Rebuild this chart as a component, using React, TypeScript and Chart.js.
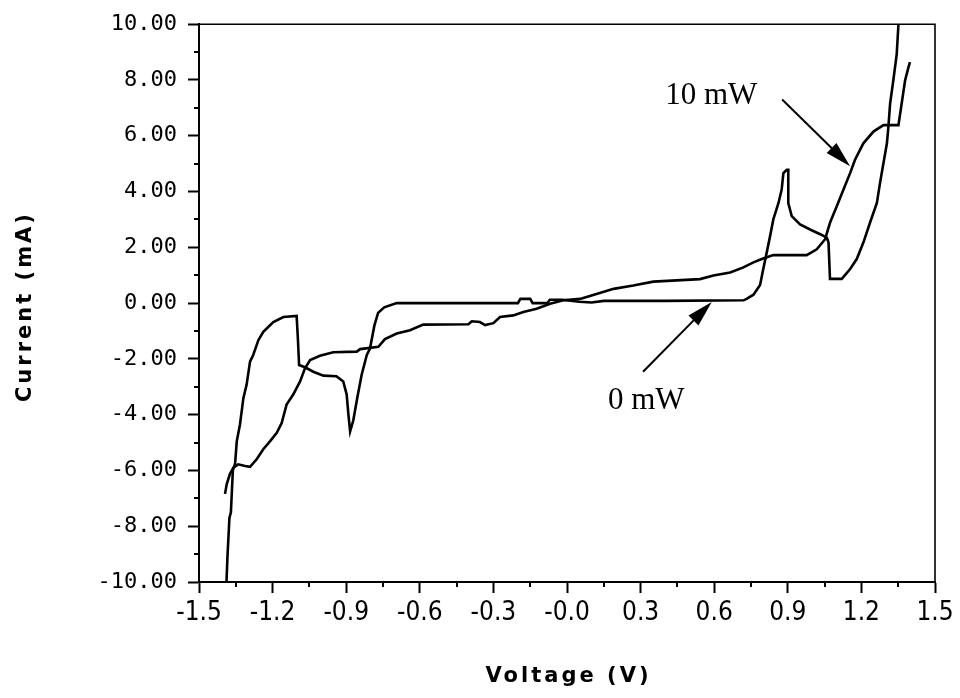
import { useEffect, useRef } from "react";
import { Chart, registerables } from "chart.js";

Chart.register(...registerables);

// 0 mW sweep (sharp switching curve)
const voltage0mW = [
  -1.388, -1.384, -1.376, -1.37, -1.362, -1.353, -1.346, -1.333, -1.319, -1.306,
  -1.292, -1.279, -1.258, -1.238, -1.197, -1.156, -1.102, -1.097, -1.092, -1.068,
  -1.034, -0.993, -0.94, -0.912, -0.898, -0.891, -0.884, -0.871, -0.855, -0.837,
  -0.816, -0.803, -0.785, -0.77, -0.745, -0.694, -0.2, -0.19, -0.15, -0.14,
  -0.08, -0.07, -0.02, 0.05, 0.1, 0.15, 0.4, 0.72, 0.732, 0.76,
  0.787, 0.8, 0.814, 0.828, 0.841, 0.862, 0.875, 0.882, 0.896, 0.902,
  0.902, 0.916, 0.95, 0.991, 1.032, 1.059, 1.066, 1.072, 1.12, 1.154,
  1.181, 1.208, 1.235, 1.263, 1.276, 1.29, 1.304, 1.31, 1.317, 1.33,
  1.344, 1.351,
];
const current0mW = [
  -10.0, -9.1, -7.7, -7.5, -6.0, -5.77, -4.95, -4.35, -3.4, -2.93,
  -2.1, -1.86, -1.33, -1.03, -0.68, -0.5, -0.46, -1.27, -2.22, -2.3,
  -2.46, -2.6, -2.62, -2.81, -3.28, -4.0, -4.6, -4.2, -3.4, -2.57,
  -1.86, -1.63, -0.8, -0.35, -0.15, 0.0, 0.0, 0.15, 0.15, 0.0,
  0.0, 0.12, 0.12, 0.05, 0.02, 0.08, 0.08, 0.1, 0.15, 0.3,
  0.65, 1.22, 1.81, 2.41, 3.0, 3.59, 4.07, 4.66, 4.78, 4.78,
  3.59, 3.12, 2.82, 2.64, 2.47, 2.35, 2.17, 0.87, 0.87, 1.22,
  1.58, 2.17, 2.88, 3.59, 4.31, 5.02, 5.73, 6.32, 7.15, 7.98,
  8.93, 10.0,
];

// 10 mW sweep (smoother curve)
const voltage10mW = [
  -1.394, -1.387, -1.374, -1.36, -1.34, -1.312, -1.292, -1.265, -1.238, -1.21,
  -1.183, -1.163, -1.143, -1.116, -1.088, -1.068, -1.047, -1.007, -0.953, -0.857,
  -0.843, -0.769, -0.742, -0.694, -0.64, -0.586, -0.402, -0.388, -0.355, -0.334,
  -0.3, -0.273, -0.219, -0.178, -0.124, -0.069, -0.015, 0.053, 0.1, 0.19,
  0.27, 0.352, 0.542, 0.597, 0.665, 0.719, 0.76, 0.794, 0.841, 0.977,
  1.018, 1.052, 1.072, 1.1, 1.127, 1.154, 1.174, 1.208, 1.249, 1.29,
  1.351, 1.364, 1.378, 1.392, 1.398,
];
const current10mW = [
  -6.84, -6.49, -6.13, -5.9, -5.78, -5.84, -5.87, -5.6, -5.24, -4.95,
  -4.65, -4.3, -3.64, -3.28, -2.81, -2.34, -2.04, -1.89, -1.76, -1.74,
  -1.65, -1.57, -1.29, -1.09, -0.97, -0.77, -0.76, -0.65, -0.68, -0.79,
  -0.72, -0.5, -0.44, -0.32, -0.2, -0.02, 0.1, 0.15, 0.27, 0.51,
  0.63, 0.77, 0.86, 0.99, 1.1, 1.28, 1.46, 1.58, 1.72, 1.72,
  1.93, 2.29, 2.88, 3.48, 4.07, 4.66, 5.14, 5.73, 6.15, 6.38,
  6.38, 7.15, 7.98, 8.46, 8.64,
];

// Axis ticks
const xTickValues = [-1.5, -1.2, -0.9, -0.6, -0.3, 0, 0.3, 0.6, 0.9, 1.2, 1.5];
const xMinorTicks = [-1.35, -1.05, -0.75, -0.45, -0.15, 0.15, 0.45, 0.75, 1.05, 1.35];
const yTickValues = [-10, -8, -6, -4, -2, 0, 2, 4, 6, 8, 10];
const yMinorTicks = [-9, -7, -5, -3, -1, 1, 3, 5, 7, 9];

// Annotations (data coordinates)
const annotationText = ["10 mW", "0 mW"];
const annotationLabelX = [0.4, 0.167];
const annotationLabelY = [7.15, -3.81];
const arrowFromX = [0.877, 0.31];
const arrowFromY = [7.3, -2.46];
const arrowToX = [1.154, 0.59];
const arrowToY = [4.91, 0.04];

const xTitle = "Voltage (V)";
const yTitle = "Current (mA)";

const toPoints = (xs: number[], ys: number[]) => xs.map((x, i) => ({ x, y: ys[i] }));

const decorPlugin = {
  id: "decor",
  afterDraw(chart: any) {
    const { ctx, chartArea, scales } = chart;
    const { left, right, top, bottom } = chartArea;
    const xs = scales.x;
    const ys = scales.y;
    ctx.save();
    // frame top & right
    ctx.strokeStyle = "#000";
    ctx.lineWidth = 1.6;
    ctx.beginPath();
    ctx.moveTo(left, top);
    ctx.lineTo(right, top);
    ctx.lineTo(right, bottom);
    ctx.stroke();
    // minor ticks
    ctx.lineWidth = 2;
    ctx.beginPath();
    yMinorTicks.forEach((v) => {
      const py = Math.round(ys.getPixelForValue(v));
      ctx.moveTo(left, py);
      ctx.lineTo(left - 5, py);
    });
    xMinorTicks.forEach((v) => {
      const px = Math.round(xs.getPixelForValue(v));
      ctx.moveTo(px, bottom);
      ctx.lineTo(px, bottom + 5);
    });
    ctx.stroke();

    // annotations
    ctx.fillStyle = "#000";
    ctx.font = "31px 'Liberation Serif'";
    ctx.textAlign = "left";
    ctx.textBaseline = "alphabetic";
    annotationText.forEach((t, i) => {
      ctx.fillText(t, xs.getPixelForValue(annotationLabelX[i]), ys.getPixelForValue(annotationLabelY[i]));
      const x0 = xs.getPixelForValue(arrowFromX[i]);
      const y0 = ys.getPixelForValue(arrowFromY[i]);
      const x1 = xs.getPixelForValue(arrowToX[i]);
      const y1 = ys.getPixelForValue(arrowToY[i]);
      const ang = Math.atan2(y1 - y0, x1 - x0);
      const hl = 26;
      const hw = 7;
      ctx.lineWidth = 2;
      ctx.beginPath();
      ctx.moveTo(x0, y0);
      ctx.lineTo(x1 - hl * 0.6 * Math.cos(ang), y1 - hl * 0.6 * Math.sin(ang));
      ctx.stroke();
      const bx = x1 - hl * Math.cos(ang);
      const by = y1 - hl * Math.sin(ang);
      ctx.beginPath();
      ctx.moveTo(x1, y1);
      ctx.lineTo(bx + hw * Math.sin(ang), by - hw * Math.cos(ang));
      ctx.lineTo(bx - hw * Math.sin(ang), by + hw * Math.cos(ang));
      ctx.closePath();
      ctx.fill();
    });

    // axis titles
    ctx.font = "bold 21px 'DejaVu Sans'";
    (ctx as any).letterSpacing = "3px";
    ctx.textAlign = "center";
    ctx.textBaseline = "middle";
    ctx.fillText(xTitle, (left + right) / 2 + 1.5, 677);
    ctx.translate(26, (top + bottom) / 2 + 5);
    ctx.rotate(-Math.PI / 2);
    ctx.fillText(yTitle, 1.5, 0);
    ctx.restore();
  },
};

export default function App() {
  const canvasRef = useRef<HTMLCanvasElement>(null);

  useEffect(() => {
    document.body.style.margin = "0";
    const canvas = canvasRef.current;
    if (!canvas) return;
    const chart = new Chart(canvas, {
      type: "scatter",
      data: {
        datasets: [
          {
            label: "0 mW",
            data: toPoints(voltage0mW, current0mW),
            showLine: true,
            borderColor: "#000",
            borderWidth: 2.6,
            pointRadius: 0,
            tension: 0,
            fill: false,
          },
          {
            label: "10 mW",
            data: toPoints(voltage10mW, current10mW),
            showLine: true,
            borderColor: "#000",
            borderWidth: 2.6,
            pointRadius: 0,
            tension: 0,
            fill: false,
          },
        ],
      },
      options: {
        responsive: false,
        animation: false,
        layout: { padding: { top: 20, right: 25, left: 0, bottom: 0 } },
        plugins: { legend: { display: false }, tooltip: { enabled: false } },
        scales: {
          x: {
            type: "linear",
            min: -1.5,
            max: 1.5,
            afterBuildTicks: (s: any) => {
              s.ticks = xTickValues.map((v) => ({ value: v }));
            },
            afterFit: (s: any) => {
              s.height = 116;
            },
            ticks: {
              color: "#000",
              padding: 5,
              maxRotation: 0,
              autoSkip: false,
              font: { family: "'DejaVu Sans Condensed', 'DejaVu Sans'", size: 26 },
              callback: (v: any) => (Math.abs(Number(v)) < 1e-9 ? "-0.0" : Number(v).toFixed(1)),
            },
            grid: {
              drawOnChartArea: false,
              drawTicks: true,
              tickLength: 11,
              tickWidth: 2,
              tickColor: "#000",
              color: "#000",
            },
            border: { display: true, color: "#000", width: 2 },
          },
          y: {
            type: "linear",
            min: -10,
            max: 10,
            afterBuildTicks: (s: any) => {
              s.ticks = yTickValues.map((v) => ({ value: v }));
            },
            afterFit: (s: any) => {
              s.width = 199;
            },
            ticks: {
              color: "#000",
              padding: 11,
              autoSkip: false,
              font: { family: "'DejaVu Sans Mono'", size: 22 },
              callback: (v: any) => Number(v).toFixed(2),
            },
            grid: {
              drawOnChartArea: false,
              drawTicks: true,
              tickLength: 11,
              tickWidth: 2,
              tickColor: "#000",
              color: "#000",
            },
            border: { display: true, color: "#000", width: 2 },
          },
        },
      },
      plugins: [decorPlugin],
    } as any);
    return () => chart.destroy();
  }, []);

  return (
    <div style={{ position: "relative", width: 960, height: 698, background: "#fff" }}>
      <canvas ref={canvasRef} width={960} height={698} style={{ display: "block" }} />
    </div>
  );
}
